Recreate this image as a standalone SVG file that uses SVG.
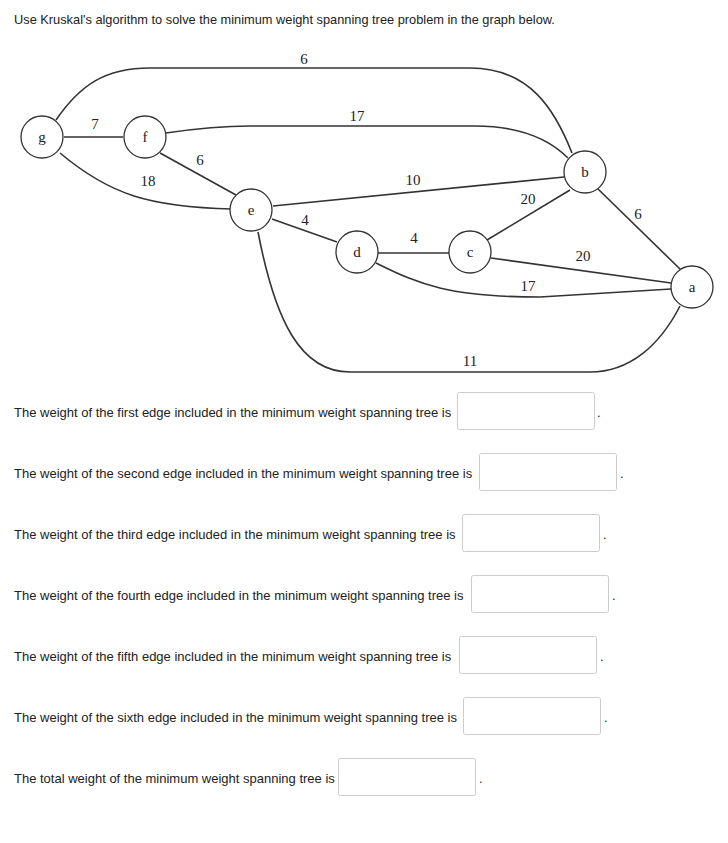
<svg xmlns="http://www.w3.org/2000/svg" width="728" height="843" viewBox="0 0 728 843">
<style>
.e{fill:none;stroke:#333;stroke-width:1.6}
.n{fill:#fff;stroke:#333;stroke-width:1.3}
.nl{font-family:"Liberation Serif",serif;font-size:15px;fill:#222;text-anchor:middle}
.wl{font-family:"Liberation Serif",serif;font-size:15px;fill:#222;text-anchor:middle}
.q{font-family:"Liberation Sans",Arial,sans-serif;font-size:13px;fill:#222}
.t{font-family:"Liberation Sans",Arial,sans-serif;font-size:12.8px;fill:#222}
.b{fill:#fff;stroke:#ccc;stroke-width:1}
</style>
<rect width="728" height="843" fill="#fff"/>
<text class="t" x="14" y="24">Use Kruskal's algorithm to solve the minimum weight spanning tree problem in the graph below.</text>
<g id="connectors">
<path class="e" d="M56,120 C80,85 105,68 150,68 L470,68 C530,68 555,110 572,153"/>
<path class="e" d="M166,133 C200,128 220,126 250,126 L475,126 C520,126 550,140 568,158"/>
<line class="e" x1="64" y1="137" x2="123" y2="137"/>
<line class="e" x1="160" y1="153" x2="236" y2="195"/>
<path class="e" d="M60,153 C110,195 150,207 232,209"/>
<line class="e" x1="273" y1="206" x2="564" y2="177"/>
<line class="e" x1="272" y1="219" x2="337" y2="242"/>
<line class="e" x1="378" y1="253" x2="449" y2="253"/>
<line class="e" x1="487" y1="240" x2="570" y2="190"/>
<line class="e" x1="598" y1="189" x2="680" y2="269"/>
<line class="e" x1="491" y1="258" x2="671" y2="283"/>
<path class="e" d="M376,263 C420,285 450,297 540,297 L671,289"/>
<path class="e" d="M258,232 C275,320 300,372 350,372 L590,372 C630,372 660,345 680,306"/>
<text class="wl" x="304" y="64">6</text>
<text class="wl" x="357" y="121">17</text>
<text class="wl" x="95" y="129">7</text>
<text class="wl" x="200" y="165">6</text>
<text class="wl" x="148" y="186">18</text>
<text class="wl" x="413" y="185">10</text>
<text class="wl" x="305" y="225">4</text>
<text class="wl" x="414" y="243">4</text>
<text class="wl" x="528" y="204">20</text>
<text class="wl" x="638" y="219">6</text>
<text class="wl" x="583" y="261">20</text>
<text class="wl" x="528" y="291">17</text>
<text class="wl" x="470" y="366">11</text>
</g>
<g id="g"><circle class="n" cx="42" cy="137" r="21"/><text class="nl" x="42" y="142">g</text></g>
<g id="f"><circle class="n" cx="145" cy="137" r="21"/><text class="nl" x="145" y="142">f</text></g>
<g id="b"><circle class="n" cx="585" cy="172" r="21"/><text class="nl" x="585" y="177">b</text></g>
<g id="e"><circle class="n" cx="251" cy="210" r="21"/><text class="nl" x="251" y="215">e</text></g>
<g id="d"><circle class="n" cx="357" cy="252" r="21"/><text class="nl" x="357" y="257">d</text></g>
<g id="c"><circle class="n" cx="470" cy="252" r="21"/><text class="nl" x="470" y="257">c</text></g>
<g id="a"><circle class="n" cx="692" cy="287" r="21"/><text class="nl" x="692" y="292">a</text></g>
<g id="questions">
<text class="q" x="14" y="417">The weight of the first edge included in the minimum weight  spanning tree is</text>
<rect class="b" x="457.5" y="392.5" width="137" height="37" rx="2"/><text class="q" x="597" y="417">.</text>
<text class="q" x="14" y="478">The weight of the second edge included in the minimum weight  spanning tree is</text>
<rect class="b" x="479.5" y="453.5" width="137" height="37" rx="2"/><text class="q" x="620" y="478">.</text>
<text class="q" x="14" y="539">The weight of the third edge included in the minimum weight  spanning tree is</text>
<rect class="b" x="462.5" y="514.5" width="137" height="37" rx="2"/><text class="q" x="603" y="539">.</text>
<text class="q" x="14" y="600">The weight of the fourth edge included in the minimum weight  spanning tree is</text>
<rect class="b" x="471.5" y="575.5" width="137" height="37" rx="2"/><text class="q" x="612" y="600">.</text>
<text class="q" x="14" y="661">The weight of the fifth edge included in the minimum weight  spanning tree is</text>
<rect class="b" x="459.5" y="636.5" width="137" height="37" rx="2"/><text class="q" x="600" y="661">.</text>
<text class="q" x="14" y="722">The weight of the sixth edge included in the minimum weight  spanning tree is</text>
<rect class="b" x="463.5" y="697.5" width="137" height="37" rx="2"/><text class="q" x="604" y="722">.</text>
<text class="q" x="14" y="783">The total weight of the minimum weight spanning tree is</text>
<rect class="b" x="338.5" y="758.5" width="137" height="37" rx="2"/><text class="q" x="479" y="783">.</text>
</g>
</svg>
